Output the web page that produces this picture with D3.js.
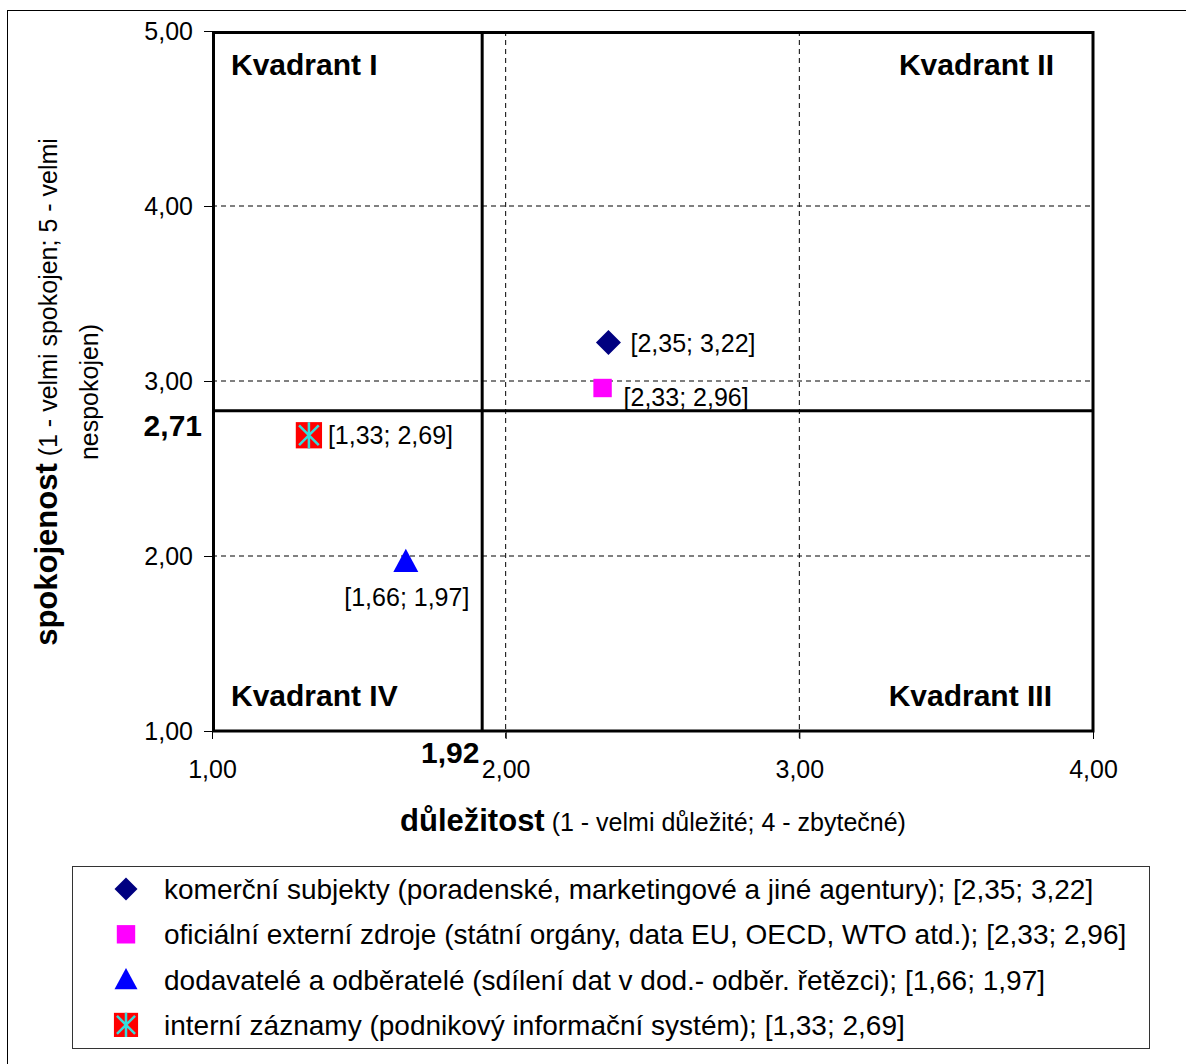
<!DOCTYPE html>
<html>
<head>
<meta charset="utf-8">
<script src="https://cdn.jsdelivr.net/npm/d3@7"></script>
<style>
    body { margin: 0; background: #fff; }
    svg { font-family: "Liberation Sans", Arial, sans-serif; }
</style>
</head>
<body>
<div id="chart"></div>
<script>
// values
const seriesNames = [
    'komerční subjekty (poradenské, marketingové a jiné agentury); [2,35; 3,22]',
    'oficiální externí zdroje (státní orgány, data EU, OECD, WTO atd.); [2,33; 2,96]',
    'dodavatelé a odběratelé (sdílení dat v dod.- odběr. řetězci); [1,66; 1,97]',
    'interní záznamy (podnikový informační systém); [1,33; 2,69]'
];
const importance = [2.35, 2.33, 1.66, 1.33];
const satisfaction = [3.22, 2.96, 1.97, 2.69];
const pointLabels = ['[2,35; 3,22]', '[2,33; 2,96]', '[1,66; 1,97]', '[1,33; 2,69]'];
const shapes = ['diamond', 'square', 'triangle', 'xsquare'];
const colors = ['#000080', '#ff00ff', '#0000ff', '#ff0000'];

const xTicks = [1, 2, 3, 4];
const yTicks = [1, 2, 3, 4, 5];
const quadrantNames = ['Kvadrant I', 'Kvadrant II', 'Kvadrant III', 'Kvadrant IV'];
// split lines as drawn in the picture, with their printed labels
const xSplit = 1.92, xSplitLabel = '1,92';
const ySplit = 2.83, ySplitLabel = '2,71';

const fmt = v => d3.format('.2f')(v).replace('.', ',');

const W = 1186, H = 1064;
const box = { left: 212, right: 1093, top: 31, bottom: 731 };
const FONT = '"Liberation Sans", Arial, sans-serif';

const svg = d3.select('#chart').append('svg')
    .attr('width', W).attr('height', H);

svg.append('rect')
    .attr('x', 7.5).attr('y', 10.5)
    .attr('width', 1200).attr('height', 1100)
    .attr('fill', '#fff').attr('stroke', '#000').attr('stroke-width', 1);

const x = d3.scaleLinear().domain([1, 4]).range([box.left, box.right]);
const y = d3.scaleLinear().domain([1, 5]).range([box.bottom, box.top]);

// dashed grid
svg.append('g')
    .selectAll('line')
    .data(xTicks.slice(1, -1))
    .join('line')
    .attr('x1', d => x(d)).attr('x2', d => x(d))
    .attr('y1', box.top).attr('y2', box.bottom + 8)
    .attr('stroke', '#000').attr('stroke-width', 1)
    .attr('stroke-dasharray', '5,4');

svg.append('g')
    .selectAll('line')
    .data(yTicks.slice(1, -1))
    .join('line')
    .attr('x1', box.left).attr('x2', box.right)
    .attr('y1', d => y(d)).attr('y2', d => y(d))
    .attr('stroke', '#000').attr('stroke-width', 1)
    .attr('stroke-dasharray', '5,4');

// axes (ticks + labels)
const xAxis = svg.append('g')
    .attr('transform', `translate(0,${box.bottom})`)
    .call(d3.axisBottom(x).tickValues(xTicks).tickFormat(fmt).tickSize(8).tickPadding(21));
xAxis.select('.domain').remove();
xAxis.selectAll('text').attr('font-size', 25).attr('fill', '#000').attr('font-family', FONT);
xAxis.selectAll('line').attr('stroke', '#000');

const yAxis = svg.append('g')
    .attr('transform', `translate(${box.left},0)`)
    .call(d3.axisLeft(y).tickValues(yTicks).tickFormat(fmt).tickSize(8).tickPadding(11));
yAxis.select('.domain').remove();
yAxis.selectAll('text').attr('font-size', 25).attr('fill', '#000').attr('font-family', FONT);
yAxis.selectAll('line').attr('stroke', '#000');

// plot frame
svg.append('rect')
    .attr('x', box.left + 1.5).attr('y', box.top + 1.5)
    .attr('width', box.right - box.left - 1.5).attr('height', box.bottom - box.top - 1.5)
    .attr('fill', 'none').attr('stroke', '#000').attr('stroke-width', 3);

// quadrant split lines
svg.append('line')
    .attr('x1', x(xSplit)).attr('x2', x(xSplit))
    .attr('y1', box.top).attr('y2', box.bottom)
    .attr('stroke', '#000').attr('stroke-width', 3);
svg.append('line')
    .attr('x1', box.left).attr('x2', box.right)
    .attr('y1', y(ySplit)).attr('y2', y(ySplit))
    .attr('stroke', '#000').attr('stroke-width', 3);

svg.append('text')
    .attr('x', box.left - 10).attr('y', y(ySplit) + 25)
    .attr('text-anchor', 'end')
    .style('font-size', '30px').style('font-weight', 'bold')
    .text(ySplitLabel);
svg.append('text')
    .attr('x', x(xSplit) - 32).attr('y', box.bottom + 32)
    .attr('text-anchor', 'middle')
    .style('font-size', '30px').style('font-weight', 'bold')
    .text(xSplitLabel);

// quadrant names
const qPos = [
    { x: box.left + 19, y: box.top + 44, anchor: 'start' },
    { x: box.right - 39, y: box.top + 44, anchor: 'end' },
    { x: box.right - 41, y: box.bottom - 25, anchor: 'end' },
    { x: box.left + 19, y: box.bottom - 25, anchor: 'start' }
];
svg.append('g')
    .selectAll('text')
    .data(quadrantNames)
    .join('text')
    .attr('x', (d, i) => qPos[i].x)
    .attr('y', (d, i) => qPos[i].y)
    .attr('text-anchor', (d, i) => qPos[i].anchor)
    .style('font-size', '30px').style('font-weight', 'bold')
    .text(d => d);

// marker drawing
function drawMarker(g, shape, color, s) {
    if (shape === 'diamond') {
        g.append('path')
            .attr('d', `M0,${-s}L${s},0L0,${s}L${-s},0Z`)
            .attr('fill', color);
    } else if (shape === 'square') {
        g.append('rect')
            .attr('x', -s * 0.8).attr('y', -s * 0.8)
            .attr('width', s * 1.6).attr('height', s * 1.6)
            .attr('fill', color);
    } else if (shape === 'triangle') {
        g.append('path')
            .attr('d', `M0,${-s}L${s},${s * 0.85}L${-s},${s * 0.85}Z`)
            .attr('fill', color);
    } else {
        const h = s * 1.05;
        g.append('rect')
            .attr('x', -h).attr('y', -h)
            .attr('width', h * 2).attr('height', h * 2)
            .attr('fill', color);
        const a = h * 0.75;
        g.append('path')
            .attr('d', `M${-a},${-a}L${a},${a}M${a},${-a}L${-a},${a}M0,${-h}L0,${h}`)
            .attr('stroke', '#33dddd').attr('stroke-width', 2.5);
    }
}

const points = importance.map((v, i) => ({ x: v, y: satisfaction[i], shape: shapes[i], color: colors[i], label: pointLabels[i] }));
// label placement relative to marker
const labelOffset = [
    { dx: 22, dy: 9, anchor: 'start' },
    { dx: 21, dy: 18, anchor: 'start' },
    { dx: 1, dy: 45, anchor: 'middle' },
    { dx: 19, dy: 9, anchor: 'start' }
];

const pg = svg.append('g');
points.forEach((p, i) => {
    const g = pg.append('g')
        .attr('transform', `translate(${x(p.x)},${y(p.y)})`);
    drawMarker(g, p.shape, p.color, p.shape === 'square' ? 11.5 : 12.5);
    g.append('text')
        .attr('x', labelOffset[i].dx).attr('y', labelOffset[i].dy)
        .attr('text-anchor', labelOffset[i].anchor)
        .style('font-size', '25px')
        .text(p.label);
});

// axis titles
const xt = svg.append('text')
    .attr('x', 653).attr('y', 831)
    .attr('text-anchor', 'middle');
xt.append('tspan').style('font-size', '31px').style('font-weight', 'bold').text('důležitost');
xt.append('tspan').style('font-size', '25px').text(' (1 - velmi důležité; 4 - zbytečné)');

const yt = svg.append('g')
    .attr('transform', 'translate(0,392) rotate(-90)');
const yt1 = yt.append('text')
    .attr('x', 0).attr('y', 57)
    .attr('text-anchor', 'middle');
yt1.append('tspan').style('font-size', '31px').style('font-weight', 'bold').text('spokojenost');
yt1.append('tspan').style('font-size', '25px').text(' (1 - velmi spokojen; 5 - velmi');
yt.append('text')
    .attr('x', 0).attr('y', 98)
    .attr('text-anchor', 'middle')
    .style('font-size', '25px')
    .text('nespokojen)');

// legend
const legend = svg.append('g');
legend.append('rect')
    .attr('x', 72.5).attr('y', 866.5)
    .attr('width', 1077).attr('height', 182)
    .attr('fill', '#fff').attr('stroke', '#333').attr('stroke-width', 1);

seriesNames.forEach((name, i) => {
    const cy = 889 + i * 45.3;
    const g = legend.append('g').attr('transform', `translate(126,${cy})`);
    drawMarker(g, shapes[i], colors[i], shapes[i] === 'square' ? 11.5 : 11.5);
    legend.append('text')
        .attr('x', 164).attr('y', cy + 10)
        .style('font-size', '28px')
        .text(name);
});
</script>
</body>
</html>
